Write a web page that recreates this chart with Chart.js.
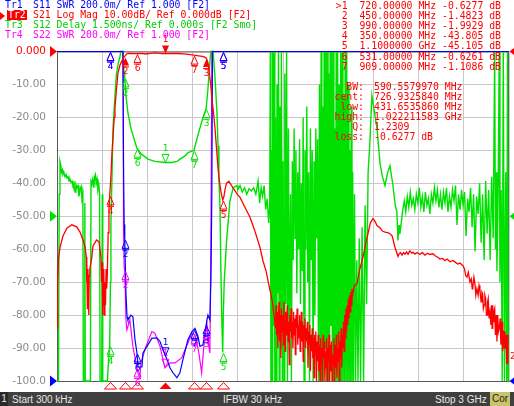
<!DOCTYPE html>
<html><head><meta charset="utf-8">
<script src="https://cdn.jsdelivr.net/npm/chart.js@4"></script>
<style>
html,body{margin:0;padding:0;background:#fff;width:514px;height:406px;overflow:hidden}
#wrap{position:relative;width:514px;height:406px;background:#fff}
#c{position:absolute;left:0;top:0}
.t{position:absolute;font-family:"DejaVu Sans Mono",monospace;font-size:9.8px;line-height:10px;white-space:pre}
#bar{position:absolute;left:0;top:392px;width:514px;height:14px;background:#3f3f3f;font-family:"Liberation Sans",Arial,sans-serif;font-size:10px;color:#e8e8e8}
#bar span{position:absolute;top:1px;line-height:13px;white-space:pre}
</style></head>
<body><div id="wrap"><canvas id="c" width="514" height="406"></canvas>
<div id="hdr"></div>
<div id="bar">
 <span style="left:0;top:0;width:8px;height:14px;background:#2a2a2a;text-align:center">1</span>
 <span style="left:12px">Start 300 kHz</span>
 <span style="left:223px">IFBW 30 kHz</span>
 <span style="left:435px">Stop 3 GHz</span>
 <span style="left:490px;top:0;width:20px;height:14px;background:#c8c46a;color:#222;text-align:center">Cor</span>
</div>
</div>
<script>
// ---------- data (frequency in MHz) ----------
const freqS21 = [0.3,3,6,10,20,40,66,99,131,153,173,186,195,197,199,202,205,208,211,214,218,230,239,263,279,292,296,299,302,305,308,311,314,318,322,326,330,334,340,345,350,358,365,372,380,385,396,405,418,430,440,450,460,471,490,510,531,560,590,620,650,680,700,720,760,800,840,870,900,909,940,965,980,990,1000,1010,1020,1030,1040,1050,1060,1070,1080,1090,1100,1108,1115,1125,1141,1170,1200,1214,1250,1281,1310,1347,1367,1387,1414,1430,1447,
1450,1454,1458,1462,1466,1470,1474,1478,1482,1486,1490,1494,1498,1502,1506,1510,1514,1518,1522,1526,1530,1534,1538,1542,1546,1550,1554,1558,1562,1566,1570,1574,1578,1582,1586,1590,1594,1598,1602,1606,1610,1614,1618,1622,1626,1630,1634,1638,1642,1646,1650,1654,1658,1662,1666,1670,1674,1678,1682,1686,1690,1694,1698,1702,1706,1710,1714,1718,1722,1726,1730,1734,1738,1742,1746,1750,1754,1758,1762,1766,1770,1774,1778,1782,1786,1790,1794,1798,1802,1806,1810,1814,1818,1822,1826,1830,1834,1838,1842,1846,1850,1854,1858,1862,1866,1870,1874,1878,1882,1886,1890,1894,1898,1902,1906,1910,1914,1918,1922,1926,1930,1934,1938,1942,1946,1950,1954,1958,1962,
1975,1991,2010,2031,2050,2064,2080,2097,2110,2124,2143,2160,2177,2195,2210,2225,2243,2255,2263,2270,2280,2290,2300,2310,2320,2330,2342,2355,2363,2375,2390,2409,2425,2442,2460,2475,2495,2510,2530,2542,2560,2575,2590,2608,2628,2645,2660,2675,2694,2705,2712,2721,2730,2741,2750,2756,2760,2767,2774,2780,2787,2795,2801,2807,2815,2820,2825,2830,2835,2840,2845,2850,2854,2858,2862,2868,2874,2880,2884,2888,2892,2895,2900,2905,2910,2915,2920,2925,2930,2935,2942,2946,2950,2954,2958,2962,2965,2969,2973,2976,2980,2984,2988,2993,2996,3000];
const valS21 = [-84,-66,-71,-63,-59.5,-56,-53.6,-52.6,-53.2,-54.8,-57.2,-59.2,-62.4,-70,-64,-78,-66,-72,-80,-68,-66,-63,-59,-57.2,-57.8,-62.4,-70,-64,-80,-67,-77,-66,-80,-70,-77,-66,-72,-68,-55,-48,-43.8,-38,-31,-26,-20,-17,-11,-6.5,-4.2,-3.0,-2.0,-1.48,-0.9,-0.55,-0.6,-0.65,-0.63,-0.55,-0.75,-0.6,-0.4,-0.55,-0.6,-0.63,-0.6,-0.6,-0.7,-0.85,-1.0,-1.1,-1.3,-1.5,-1.7,-1.99,-3,-6,-10,-15,-19,-24,-30,-36,-40,-43,-45.1,-44,-42,-40,-39.4,-41.5,-43.5,-44.2,-47.5,-50.3,-54,-59.4,-63.5,-66.5,-72.5,-76,-82.6,
-84,-77,-86,-79,-90,-81,-76,-88,-80,-93,-78,-85,-80,-89,-76,-84,-91,-79,-86,-81,-77,-88,-82,-95,-80,-85,-78,-87,-82,-90,-79,-86,-81,-92,-80,-84,-78,-89,-83,-87,-80,-91,-84,-79,-88,-82,-94,-83,-87,-81,-90,-84,-88,-82,-96,-85,-89,-83,-97,-86,-91,-84,-93,-87,-99,-86,-92,-85,-100,-88,-94,-86,-97,-89,-100,-87,-95,-90,-100,-86,-93,-88,-100,-91,-96,-87,-100,-90,-94,-86,-100,-89,-97,-88,-100,-92,-95,-87,-100,-89,-96,-86,-99,-90,-94,-85,-100,-88,-93,-84,-96,-86,-90,-82,-91,-80,-87,-78,-85,-77,-83,-75,-81,-74,-79,-73,-77,-72,-74,
-71,-70.5,-66,-62.4,-58,-55.3,-52,-50.7,-51.5,-52.8,-53.5,-54.5,-54.8,-55,-55.3,-56,-59.4,-61,-62.2,-61.5,-61,-61.8,-61,-61.5,-60.8,-61.5,-60.5,-61.2,-60.9,-61.5,-61,-61.6,-61,-61.8,-61.2,-61.6,-61.4,-62,-62.5,-63,-62.8,-63.5,-63,-63.8,-63.4,-64,-64.5,-64.2,-65,-66,-68,-68.5,-67,-70,-69,-72,-71.5,-68.5,-70.5,-74,-72,-74,-71,-72.5,-76,-73,-73.5,-78,-77,-74,-75,-80,-80,-76,-75,-81,-79,-83,-77,-84,-77,-82,-79,-78,-86,-80,-88,-80,-85,-84,-81,-89,-88,-82,-91,-87,-84.7,-90,-85,-90,-86,-95,-86,-94.7];

const freqDelay = [0.3,10,15,20,26,30,36,40,46,53,60,66,73,80,86,93,100,106,113,120,126,133,140,146,153,160,166,172,175,181,185,188,200,212,222,226,232,238,245,250,255,260,266,272,278,283,286,297,301,304,320,335,343,350,355,358,365,372,385,395,408,418,425,430,436,440,445,450,458,471,491,517,531,557,604,650,717,760,797,816,850,870,909,936,969,990,1002,1015,1022,1028,1035,1049,1062,1069,1075,1082,1088,1095,1100,1104,1110,1125,1148,1170,1195,
1200,1215,1230,1245,1260,1275,1290,1305,1320,1335,1345,1355,1365,1375,1385,1395,1405,1412,
1416,1420,1424,1428,1432,1437,1441,1446,1450,1455,1460,1465,1470,1475,1480,1485,1490,1496,1501,1507,1512,1518,1524,1530,1536,1542,
1550,1556,1562,1568,1574,1580,1586,1592,1598,1604,1610,1616,1622,1628,1634,1640,1646,1652,1658,1664,1670,1676,1682,1688,1694,1700,1706,1712,1718,1724,1730,1736,1742,
1748,1753,1758,1763,1768,1773,1778,1783,1788,1793,1798,1803,1808,1813,1818,1823,1828,1833,1838,1843,1848,1853,1858,1863,1868,1873,1878,1883,1888,1893,1898,1903,1908,1913,1918,1923,1928,1933,1938,1943,1948,1953,1958,1963,1968,1975,1982,1990,1998,2006,2015,2025,2035,2045,2055,2065,2077,2090,2097,2110,2124,2144,2160,2177,2195,2210,2230,2245,2256,2263,2270,2276,
2285,2295,2305,2315,2325,2335,2345,2355,2365,2375,2385,2395,2405,2415,2425,2435,2445,2455,2465,2475,2485,2495,2505,2515,2525,2535,2545,2555,2565,2575,2585,2595,2605,2615,2625,2635,2645,2655,2665,2675,2685,2695,2705,2715,2725,2735,2745,2755,2765,2775,2785,2795,2805,2815,2825,2835,2845,2855,2865,2875,2885,2895,2905,2910,2915,2920,2928,2935,2940,2948,2955,2962,2970,2978,2985,2990,2995,3000];
const valDelay = [-7.5,-7.5,1.0,2.5,2.3,2.0,2.1,1.9,2.0,1.8,1.9,1.75,1.8,1.6,1.7,1.55,1.6,1.4,1.5,1.1,1.45,1.3,1.4,0.9,1.2,1.35,0.8,1.0,-7.5,-7.5,0.6,-7.5,-7.5,-7.5,-7.5,1.6,1.5,1.7,1.3,1.8,1.9,1.5,1.7,1.2,1.4,1.0,-7.5,-7.5,1.0,-7.5,-7.5,-7.5,-6.5,-5.9,-3.0,-0.4,1.7,4.0,5.5,6.5,7.0,7.25,7.6,9.0,7.6,7.0,6.6,6.3,5.5,4.7,4.0,3.4,3.1,2.85,2.6,2.5,2.45,2.45,2.5,2.6,2.75,2.9,3.0,3.7,4.5,4.9,5.8,7.0,7.6,9.0,7.6,6.3,4.7,3.2,1.7,0.4,-2.5,-5.0,-6.2,-4.5,-3.0,-1.2,0.7,1.3,1.4,
1.2,1.4,1.1,1.3,1.0,1.25,1.15,1.3,1.0,1.6,0.6,1.3,0.9,1.4,0.3,0.8,-0.3,0.5,
7.5,-7.5,3.0,-7.5,7.5,-5.0,7.5,-7.5,4.5,-7.5,6.0,-3.5,7.5,-7.5,5.0,-6.0,7.5,-7.5,2.5,-7.5,6.5,-4.0,7.5,-7.5,4.0,-5.5,
1.0,-7.5,2.5,-2.0,4.0,-1.0,3.0,-3.5,2.0,-1.5,3.5,-4.0,1.5,-2.5,4.5,-7.5,3.0,-1.5,5.0,-3.0,2.0,-7.5,4.0,-2.0,3.0,-7.5,2.5,-4.5,4.0,-1.0,3.5,-7.5,6.0,
-7.5,7.5,-7.5,5.0,-7.5,7.5,-6.0,7.5,-7.5,7.5,-7.5,6.5,-7.5,7.5,-5.0,7.5,-7.5,7.5,-7.5,4.0,-7.5,7.5,-7.5,7.5,-7.5,6.0,-7.5,7.5,-7.5,7.5,-7.5,5.5,-7.5,7.5,-7.5,7.5,-7.5,6.0,-7.5,3.0,-7.5,5.0,-7.5,2.0,-7.5,1.0,-7.5,-2.0,-7.5,-1.0,-7.5,-0.5,-7.5,0.5,-4.0,2.0,3.4,5.5,5.2,4.6,4.0,2.4,1.8,1.4,2.0,2.3,1.4,0.5,0.2,-1.1,-0.4,-0.8,
-0.3,0.3,0.7,0.2,0.9,0.4,1.1,0.5,0.8,0.3,1.0,0.6,1.3,0.4,0.9,0.2,1.1,0.5,0.8,0.1,1.0,0.6,1.3,0.7,1.2,0.4,1.0,0.3,1.1,0.6,1.3,0.2,0.9,0.4,1.2,0.7,1.4,-0.4,1.0,0.3,1.2,0.5,1.1,-0.9,0.8,0.2,1.3,-0.5,1.0,-1.6,0.9,0.1,1.5,-1.2,1.0,-2.0,1.6,-0.8,1.2,-2.0,1.8,-1.0,7.5,-1.5,2.0,-2.5,1.0,7.5,-3.0,1.2,-7.5,7.5,-7.5,2.0,-7.5,7.5,-7.5,-7.5];

const freqS11 = [0.3,438,442,446,450,458,465,471,491,504,518,531,538,564,571,597,630,664,684,704,730,750,770,796,816,836,869,896,916,936,949,969,995,1002,1015,1022,1028,1032,3000];
const valS11  = [3,3,2.3,1.95,1.86,1.53,1.39,1.37,1.40,1.39,1.25,1.17,1.085,1.085,1.17,1.21,1.26,1.26,1.24,1.19,1.13,1.08,1.05,1.02,1.05,1.13,1.25,1.30,1.32,1.27,1.21,1.22,1.37,1.40,1.37,1.63,2.14,3,3];

const freqS22 = [0.3,438,442,446,450,458,464,484,504,524,540,551,557,591,630,650,684,716,750,783,827,869,896,916,942,960,975,995,1008,1015,1022,1028,3000];
const valS22  = [3,3,1.9,1.69,1.67,1.37,1.31,1.37,1.21,1.11,1.04,1.02,1.11,1.21,1.30,1.29,1.21,1.08,1.11,1.11,1.14,1.23,1.29,1.28,1.17,1.05,1.21,1.35,1.21,1.17,1.9,3,3];

const yTickValues = [0,-10,-20,-30,-40,-50,-60,-70,-80,-90,-100];
const markerFreqs = [720,450,990,350,1100,531,909];
const markerNames = ['1','2','3','4','5','6','7'];
const markerFreqText = ['720.00000 MHz','450.00000 MHz','990.00000 MHz','350.00000 MHz','1.1000000 GHz','531.00000 MHz','909.00000 MHz'];
const markerValText = ['-0.6277 dB','-1.4823 dB','-1.9929 dB','-43.805 dB','-45.105 dB','-0.6261 dB','-1.1086 dB'];
const statLabels = ['BW:','cent:','low:','high:','Q:','loss:'];
const statValues = ['590.5579970 MHz','726.9325840 MHz','431.6535860 MHz','1.022211583 GHz','1.2309','-0.6277 dB'];
const traceLines = [
  ['Tr1','S11 SWR 200.0m/ Ref 1.000 [F2]','#0000ff'],
  ['Tr2','S21 Log Mag 10.00dB/ Ref 0.000dB [F2]','#ff0000'],
  ['Tr3','S12 Delay 1.500ns/ Ref 0.000s [F2 Smo]','#00d000'],
  ['Tr4','S22 SWR 200.0m/ Ref 1.000 [F2]','#ff00ff']
];

// ---------- header text ----------
const hdr = document.getElementById('hdr');
function addText(txt, css){ const d=document.createElement('div'); d.className='t'; d.textContent=txt; d.style.cssText+=css; hdr.appendChild(d); return d; }
traceLines.forEach((t,i)=>{
  const top = i*10;
  if(i===1){
    const tri=document.createElement('div');
    tri.style.cssText='position:absolute;left:0;top:'+(top+2)+'px;width:0;height:0;border-top:4px solid transparent;border-bottom:4px solid transparent;border-left:5px solid #ff0000';
    hdr.appendChild(tri);
    addText(t[0],'left:7px;top:'+top+'px;color:#fff;background:#ff0000;padding:0 1px;');
  } else addText(t[0],'left:5px;top:'+top+'px;color:'+t[2]+';');
  addText(t[1],'left:33px;top:'+top+'px;color:'+t[2]+';');
});
markerNames.forEach((m,i)=>{
  const s=(i===0?'>':' ')+m+'  '+markerFreqText[i]+' '+markerValText[i].padStart(10,' ');
  addText(s,'right:13px;top:'+(1+i*10.1)+'px;color:#ff0000;text-align:right;');
});
statLabels.forEach((l,i)=>{
  addText(l,'right:150px;top:'+(82+i*10)+'px;color:#ff0000;text-align:right;');
  addText(statValues[i],'left:374px;top:'+(82+i*10)+'px;color:#ff0000;');
});

// ---------- helpers ----------
function pts(xs,ys){ return xs.map((x,i)=>({x:x,y:ys[i]})); }
function interp(xs,ys,f){ for(let i=1;i<xs.length;i++){ if(f<=xs[i]){ const t=(f-xs[i-1])/(xs[i]-xs[i-1]); return ys[i-1]+t*(ys[i]-ys[i-1]); } } return ys[ys.length-1]; }
function evenTicks(s){ const n=10; const t=[]; for(let i=0;i<=n;i++) t.push({value:s.min+(s.max-s.min)*i/n}); s.ticks=t; }

const GREEN='#00e000', BLUE='#0000ff', RED='#ff0000', MAG='#ff00ff';

function tri(ctx,x,y,w,h,dir,fill){ // (x,y)=apex
  ctx.beginPath(); ctx.moveTo(x,y);
  if(dir==='up'){ctx.lineTo(x-w/2,y+h);ctx.lineTo(x+w/2,y+h);}
  else if(dir==='down'){ctx.lineTo(x-w/2,y-h);ctx.lineTo(x+w/2,y-h);}
  else if(dir==='right'){ctx.lineTo(x-w,y-h/2);ctx.lineTo(x-w,y+h/2);}
  else {ctx.lineTo(x+w,y-h/2);ctx.lineTo(x+w,y+h/2);}
  ctx.closePath(); if(fill) ctx.fill(); else ctx.stroke();
}

const vna = {
  id:'vna',
  beforeDatasetsDraw(chart){
    const {ctx,chartArea:a}=chart;
    ctx.save(); ctx.strokeStyle='#5a5a5a'; ctx.lineWidth=1;
    ctx.beginPath(); ctx.moveTo(a.left+0.5,a.top+0.5); ctx.lineTo(a.right-0.5,a.top+0.5); ctx.lineTo(a.right-0.5,a.bottom-0.5); ctx.stroke();
    ctx.restore();
  },
  afterDatasetsDraw(chart){
    const {ctx,chartArea:a,scales}=chart;
    const sx=scales.x;
    ctx.save();
    ctx.lineWidth=1;
    const traces=[
      {xs:freqDelay,ys:valDelay,sc:scales.yd,col:GREEN,fillSet:[]},
      {xs:freqS22,ys:valS22,sc:scales.ys,col:MAG,fillSet:[]},
      {xs:freqS11,ys:valS11,sc:scales.ys,col:BLUE,fillSet:[]},
      {xs:freqS21,ys:valS21,sc:scales.y,col:RED,fillSet:[0,1,2]}
    ];
    traces.forEach(tr=>{
      ctx.strokeStyle=tr.col; ctx.fillStyle=tr.col;
      ctx.font='9px "DejaVu Sans"'; ctx.textAlign='center';
      markerFreqs.forEach((f,i)=>{
        const px=Math.round(sx.getPixelForValue(f))+0.5;
        let py=tr.sc.getPixelForValue(interp(tr.xs,tr.ys,f));
        py=Math.max(a.top,Math.min(a.bottom,py));
        const filled=tr.fillSet.indexOf(i)>=0;
        if(i===0){
          tri(ctx,px,py,7,8,'down',filled);
          ctx.textBaseline='bottom'; ctx.fillText(markerNames[i],px,py-9);
        } else {
          tri(ctx,px,py+1,7,8,'up',filled);
          ctx.beginPath(); ctx.moveTo(px-3.5,py+10.5); ctx.lineTo(px+3.5,py+10.5); ctx.stroke();
          ctx.textBaseline='top'; ctx.fillText(markerNames[i],px,py+11);
        }
      });
    });
    ctx.strokeStyle=RED; ctx.fillStyle=RED;
    markerFreqs.forEach((f,i)=>{ const px=Math.round(sx.getPixelForValue(f))+0.5; tri(ctx,px,a.bottom+1.5,12,6.5,'up',i===0); });
    ctx.fillStyle=RED; tri(ctx,a.left,scales.y.getPixelForValue(0),7,11,'right',true);
    ctx.fillStyle=GREEN; tri(ctx,a.left,scales.yd.getPixelForValue(0),7,11,'right',true);
    ctx.fillStyle=BLUE; tri(ctx,a.left,scales.ys.getPixelForValue(1),7,11,'right',true);
    ctx.fillStyle=GREEN; tri(ctx,a.right+0.5,scales.yd.getPixelForValue(0),5,8,'left',true);
    ctx.fillStyle=BLUE; tri(ctx,a.right+0.5,scales.ys.getPixelForValue(1),5,8,'left',true);
    ctx.fillStyle=RED; tri(ctx,a.right+0.5,scales.y.getPixelForValue(0),5,8,'left',true);
    ctx.fillStyle=RED; ctx.font='9px "DejaVu Sans"'; ctx.textAlign='left'; ctx.textBaseline='middle';
    ctx.fillText('2',a.right+1,357);
    ctx.restore();
  }
};

const ds = (data,axis,color,w)=>({data:data,yAxisID:axis,borderColor:color,borderWidth:w,pointRadius:0,tension:0,fill:false,clip:{left:0,right:0,top:1,bottom:1}});

new Chart(document.getElementById('c'),{
  type:'line',
  data:{datasets:[
    ds(pts(freqS21,valS21),'y',RED,1.3),
    ds(pts(freqS11,valS11),'ys',BLUE,1.2),
    ds(pts(freqS22,valS22),'ys',MAG,1.2),
    ds(pts(freqDelay,valDelay),'yd',GREEN,1.4)
  ]},
  options:{
    responsive:false, devicePixelRatio:1, animation:false,
    layout:{padding:{left:0,top:51.5,right:5,bottom:0}},
    plugins:{legend:{display:false},tooltip:{enabled:false}},
    scales:{
      x:{type:'linear',min:0.3,max:3000,afterBuildTicks:evenTicks,
         grid:{color:'#c8c8c8',lineWidth:1,drawTicks:false},
         border:{color:'#5a5a5a'},ticks:{display:false},afterFit:s=>{s.height=25;}},
      y:{type:'linear',position:'left',min:-100,max:0,afterBuildTicks:evenTicks,
         grid:{color:'#c8c8c8',lineWidth:1,drawTicks:false},
         border:{color:'#5a5a5a'},
         ticks:{padding:11,font:{family:'DejaVu Sans',size:10.5},
           color:c=>(Math.round(c.tick.value)===0?'#ff0000':'#8c8c8c'),
           callback:v=>{const r=Math.round(v); return r===0?'0.000':(r===-100?'-100.0':r.toFixed(2));}},
         afterFit:s=>{s.width=57;}},
      ys:{type:'linear',min:1,max:3,display:false},
      yd:{type:'linear',min:-7.5,max:7.5,display:false}
    }
  },
  plugins:[vna]
});
</script>
</body></html>
